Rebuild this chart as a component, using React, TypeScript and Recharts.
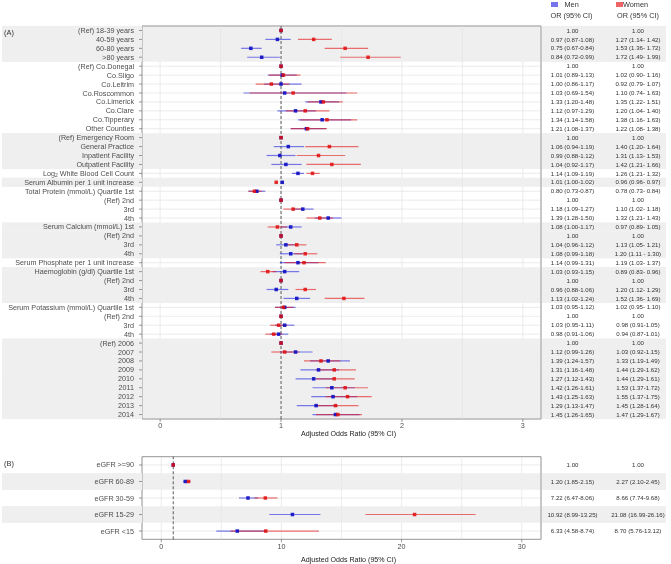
import React from "react";
import {
  ComposedChart, Line, ErrorBar, XAxis, YAxis, CartesianGrid,
  ReferenceArea, ReferenceLine, Legend
} from "recharts";

// Panel A rows
const labelsA = [
  "(Ref) 18-39 years", "40-59 years", "60-80 years", ">80 years",
  "(Ref) Co.Donegal", "Co.Sligo", "Co.Leitrim", "Co.Roscommon", "Co.Limerick", "Co.Clare", "Co.Tipperary", "Other Counties",
  "(Ref) Emergency Room", "General Practice", "Inpatient Facility", "Outpatient Facility",
  "Log2 White Blood Cell Count",
  "Serum Albumin per 1 unit increase",
  "Total Protein (mmol/L) Quartile 1st", "(Ref) 2nd", "3rd", "4th",
  "Serum Calcium (mmol/L) 1st", "(Ref) 2nd", "3rd", "4th",
  "Serum Phosphate per 1 unit increase",
  "Haemoglobin (g/dl) Quartile 1st", "(Ref) 2nd", "3rd", "4th",
  "Serum Potassium (mmol/L) Quartile 1st", "(Ref) 2nd", "3rd", "4th",
  "(Ref) 2006", "2007", "2008", "2009", "2010", "2011", "2012", "2013", "2014",
];
// group number per row, even groups are shaded
const groupsA = [
  0, 0, 0, 0,
  1, 1, 1, 1, 1, 1, 1, 1,
  2, 2, 2, 2,
  3,
  4,
  5, 5, 5, 5,
  6, 6, 6, 6,
  7,
  8, 8, 8, 8,
  9, 9, 9, 9,
  10, 10, 10, 10, 10, 10, 10, 10, 10,
];
// [OR, lower, upper]
const menA = [
  [1, 1, 1], [0.97, 0.87, 1.08], [0.75, 0.67, 0.84], [0.84, 0.72, 0.99],
  [1, 1, 1], [1.01, 0.89, 1.13], [1.0, 0.86, 1.17], [1.03, 0.69, 1.54], [1.33, 1.2, 1.48], [1.12, 0.97, 1.29], [1.34, 1.14, 1.58], [1.21, 1.08, 1.37],
  [1, 1, 1], [1.06, 0.94, 1.19], [0.99, 0.88, 1.12], [1.04, 0.92, 1.17],
  [1.14, 1.09, 1.19],
  [1.01, 1.0, 1.02],
  [0.8, 0.73, 0.87], [1, 1, 1], [1.18, 1.09, 1.27], [1.39, 1.28, 1.5],
  [1.08, 1.0, 1.17], [1, 1, 1], [1.04, 0.96, 1.12], [1.08, 0.99, 1.18],
  [1.14, 0.99, 1.31],
  [1.03, 0.93, 1.15], [1, 1, 1], [0.96, 0.88, 1.06], [1.13, 1.02, 1.24],
  [1.03, 0.95, 1.12], [1, 1, 1], [1.03, 0.95, 1.11], [0.98, 0.91, 1.06],
  [1, 1, 1], [1.12, 0.99, 1.26], [1.39, 1.24, 1.57], [1.31, 1.16, 1.48], [1.27, 1.12, 1.43], [1.42, 1.26, 1.61], [1.43, 1.25, 1.63], [1.29, 1.13, 1.47], [1.45, 1.26, 1.65],
];
const womenA = [
  [1, 1, 1], [1.27, 1.14, 1.42], [1.53, 1.36, 1.72], [1.72, 1.49, 1.99],
  [1, 1, 1], [1.02, 0.9, 1.16], [0.92, 0.79, 1.07], [1.1, 0.74, 1.63], [1.35, 1.22, 1.51], [1.2, 1.04, 1.4], [1.38, 1.16, 1.63], [1.22, 1.08, 1.38],
  [1, 1, 1], [1.4, 1.2, 1.64], [1.31, 1.13, 1.53], [1.42, 1.21, 1.66],
  [1.26, 1.21, 1.32],
  [0.96, 0.96, 0.97],
  [0.78, 0.73, 0.84], [1, 1, 1], [1.1, 1.02, 1.18], [1.32, 1.21, 1.43],
  [0.97, 0.89, 1.05], [1, 1, 1], [1.13, 1.05, 1.21], [1.2, 1.11, 1.3],
  [1.19, 1.03, 1.37],
  [0.89, 0.83, 0.96], [1, 1, 1], [1.2, 1.12, 1.29], [1.52, 1.36, 1.69],
  [1.02, 0.95, 1.1], [1, 1, 1], [0.98, 0.91, 1.05], [0.94, 0.87, 1.01],
  [1, 1, 1], [1.03, 0.92, 1.15], [1.33, 1.19, 1.49], [1.44, 1.29, 1.62], [1.44, 1.29, 1.61], [1.53, 1.37, 1.72], [1.55, 1.37, 1.75], [1.45, 1.28, 1.64], [1.47, 1.29, 1.67],
];
const menTextA = [
  "1.00", "0.97 (0.87-1.08)", "0.75 (0.67-0.84)", "0.84 (0.72-0.99)",
  "1.00", "1.01 (0.89-1.13)", "1.00 (0.86-1.17)", "1.03 (0.69-1.54)", "1.33 (1.20-1.48)", "1.12 (0.97-1.29)", "1.34 (1.14-1.58)", "1.21 (1.08-1.37)",
  "1.00", "1.06 (0.94-1.19)", "0.99 (0.88-1.12)", "1.04 (0.92-1.17)",
  "1.14 (1.09-1.19)",
  "1.01 (1.00-1.02)",
  "0.80 (0.73-0.87)", "1.00", "1.18 (1.09-1.27)", "1.39 (1.28-1.50)",
  "1.08 (1.00-1.17)", "1.00", "1.04 (0.96-1.12)", "1.08 (0.99-1.18)",
  "1.14 (0.99-1.31)",
  "1.03 (0.93-1.15)", "1.00", "0.96 (0.88-1.06)", "1.13 (1.02-1.24)",
  "1.03 (0.95-1.12)", "1.00", "1.03 (0.95-1.11)", "0.98 (0.91-1.06)",
  "1.00", "1.12 (0.99-1.26)", "1.39 (1.24-1.57)", "1.31 (1.16-1.48)", "1.27 (1.12-1.43)", "1.42 (1.26-1.61)", "1.43 (1.25-1.63)", "1.29 (1.13-1.47)", "1.45 (1.26-1.65)",
];
const womenTextA = [
  "1.00", "1.27 (1.14- 1.42)", "1.53 (1.36- 1.72)", "1.72 (1.49- 1.99)",
  "1.00", "1.02 (0.90- 1.16)", "0.92 (0.79- 1.07)", "1.10 (0.74- 1.63)", "1.35 (1.22- 1.51)", "1.20 (1.04- 1.40)", "1.38 (1.16- 1.63)", "1.22 (1.08- 1.38)",
  "1.00", "1.40 (1.20- 1.64)", "1.31 (1.13- 1.53)", "1.42 (1.21- 1.66)",
  "1.26 (1.21- 1.32)",
  "0.96 (0.96- 0.97)",
  "0.78 (0.73- 0.84)", "1.00", "1.10 (1.02- 1.18)", "1.32 (1.21- 1.43)",
  "0.97 (0.89- 1.05)", "1.00", "1.13 (1.05- 1.21)", "1.20 (1.11 - 1.30)",
  "1.19 (1.03- 1.37)",
  "0.89 (0.83- 0.96)", "1.00", "1.20 (1.12- 1.29)", "1.52 (1.36- 1.69)",
  "1.02 (0.95- 1.10)", "1.00", "0.98 (0.91-1.05)", "0.94 (0.87-1.01)",
  "1.00", "1.03 (0.92-1.15)", "1.33 (1.19-1.49)", "1.44 (1.29-1.62)", "1.44 (1.29-1.61)", "1.53 (1.37-1.72)", "1.55 (1.37-1.75)", "1.45 (1.28-1.64)", "1.47 (1.29-1.67)",
];
const ticksA = [0, 1, 2, 3];
const minorA = [0.5, 1.5, 2.5];

// Panel B rows
const labelsB = ["eGFR >=90", "eGFR 60-89", "eGFR 30-59", "eGFR 15-29", "eGFR <15"];
const groupsB = [1, 2, 3, 4, 5];
const menB = [[1, 1, 1], [2.0, 1.85, 2.15], [7.22, 6.47, 8.06], [10.92, 8.99, 13.25], [6.33, 4.58, 8.74]];
const womenB = [[1, 1, 1], [2.27, 2.1, 2.45], [8.66, 7.74, 9.68], [21.08, 16.99, 26.16], [8.7, 5.76, 13.12]];
const menTextB = ["1.00", "1.20 (1.85-2.15)", "7.22 (6.47-8.06)", "10.92 (8.99-13.25)", "6.33 (4.58-8.74)"];
const womenTextB = ["1.00", "2.27 (2.10-2.45)", "8.66 (7.74-9.68)", "21.08 (16.99-26.16)", "8.70 (5.76-13.12)"];
const ticksB = [0, 10, 20, 30];
const minorB = [5, 15, 25];

const W = 671;
const LEFT_W = 142;
const RIGHT_W = 130;
const BAND = "#efefef";
const GRID = "#e2e2e2";
const SQ = 3.5;
const KEY: Record<string, string> = { Men: "#7474ec", Women: "#ef6464" };

const renderLabel = (label: string) => {
  if (label.startsWith("Log2")) {
    return (
      <>
        <tspan>Log</tspan>
        <tspan dy={1.6} fontSize={5}>2</tspan>
        <tspan dy={-1.6}>{label.slice(4)}</tspan>
      </>
    );
  }
  return label;
};

const square = (fill: string, op: number) => (p: any) => (
  <rect key={`sq-${p.index}`} x={p.cx - SQ / 2} y={p.cy - SQ / 2} width={SQ} height={SQ} fill={fill} fillOpacity={op} />
);

const Header = ({ payload }: any) => (
  <div style={{ position: "relative", width: 131, height: 22, fontSize: 7.3, color: "#333", lineHeight: "9px" }}>
    {(payload || []).map((p: any, i: number) => (
      <div key={p.value} style={{ position: "absolute", left: i === 0 ? 10.5 : 76, top: 0, display: "flex", alignItems: "center" }}>
        <span style={{ display: "inline-block", width: 7, height: 5.5, background: KEY[p.value], marginRight: i === 0 ? 7 : 0 }} />
        <span>{p.value}</span>
      </div>
    ))}
    <div style={{ position: "absolute", left: 31.5, top: 10.5, transform: "translateX(-50%)", whiteSpace: "nowrap" }}>OR (95% CI)</div>
    <div style={{ position: "absolute", left: 98, top: 10.5, transform: "translateX(-50%)", whiteSpace: "nowrap" }}>OR (95% CI)</div>
  </div>
);

function ForestPanel(props: any) {
  const { tag, labels, groups, men, women, menText, womenText, domain, ticks, minor, height, top, axisH, titleOffset, tickGap, header } = props;
  const plotH = height - top - axisH;
  const bandH = plotH / labels.length;

  const rows = labels.map((label: string, i: number) => ({
    id: `r${i}`,
    label,
    men: men[i][0],
    menErr: [men[i][0] - men[i][1], men[i][2] - men[i][0]],
    women: women[i][0],
    womenErr: [women[i][0] - women[i][1], women[i][2] - women[i][0]],
    menText: menText[i],
    womenText: womenText[i],
    shaded: groups[i] % 2 === 0,
  }));

  // contiguous shaded groups
  const spans: { from: string; to: string }[] = [];
  rows.forEach((r: any, i: number) => {
    if (!r.shaded) return;
    if (i > 0 && groups[i - 1] === groups[i]) spans[spans.length - 1].to = r.id;
    else spans.push({ from: r.id, to: r.id });
  });

  const LeftTick = (p: any) => {
    const row = rows[p.index];
    return (
      <g>
        {row.shaded && <rect x={2} y={p.y - bandH / 2 - 0.15} width={LEFT_W - 2} height={bandH + 0.3} fill={BAND} />}
        <line x1={LEFT_W - 3} x2={LEFT_W} y1={p.y} y2={p.y} stroke="#555" strokeWidth={0.6} />
        <text x={p.x} y={p.y} dy="0.35em" textAnchor="end" fontSize={7.2} fill="#4d4d4d">
          {renderLabel(row.label)}
        </text>
      </g>
    );
  };

  const RightTick = (p: any) => {
    const row = rows[p.index];
    return (
      <g>
        {row.shaded && <rect x={p.x + 1} y={p.y - bandH / 2 - 0.15} width={RIGHT_W - 6} height={bandH + 0.3} fill={BAND} />}
        <text x={p.x + 31.5} y={p.y} dy="0.35em" textAnchor="middle" fontSize={6.1} fill="#333">{row.menText}</text>
        <text x={p.x + 97} y={p.y} dy="0.35em" textAnchor="middle" fontSize={6.1} fill="#333">{row.womenText}</text>
      </g>
    );
  };

  return (
    <ComposedChart
      width={W}
      height={height}
      data={rows}
      layout="vertical"
      margin={{ top, right: 0, bottom: 0, left: 0 }}
    >
      {spans.map((s) => (
        <ReferenceArea key={s.from} y1={s.from} y2={s.to} fill={BAND} fillOpacity={1} stroke="none" ifOverflow="visible" />
      ))}
      <CartesianGrid stroke={GRID} strokeWidth={0.7} />
      {minor.map((m: number) => (
        <ReferenceLine key={m} x={m} stroke={GRID} strokeWidth={0.6} />
      ))}
      <XAxis
        type="number"
        domain={domain}
        ticks={ticks}
        allowDataOverflow
        height={axisH}
        axisLine={false}
        tickSize={3}
        tickMargin={tickGap}
        tickLine={{ stroke: "#555", strokeWidth: 0.6 }}
        tick={{ fontSize: 7.2, fill: "#4d4d4d" }}
        label={{ value: "Adjusted Odds Ratio (95% CI)", position: "insideBottom", offset: titleOffset, dx: 7, fontSize: 7.1, fill: "#222" }}
      />
      <YAxis
        type="category"
        dataKey="id"
        scale="band"
        width={LEFT_W}
        interval={0}
        axisLine={false}
        tickLine={false}
        tickSize={3}
        tickMargin={5}
        tick={<LeftTick />}
        label={{ value: tag, position: "insideTopLeft", offset: 4, fontSize: 7.4, fill: "#333" }}
      />
      <YAxis
        yAxisId="right"
        orientation="right"
        type="category"
        dataKey="id"
        scale="band"
        width={RIGHT_W}
        interval={0}
        axisLine={false}
        tickLine={false}
        tickSize={0}
        tickMargin={0}
        tick={<RightTick />}
      />
      <ReferenceLine x={1} stroke="#333" strokeWidth={0.8} strokeDasharray="3 2" />
      <Line dataKey="men" name="Men" stroke="none" isAnimationActive={false} activeDot={false} dot={square("#1010c4", 0.92)}>
        <ErrorBar dataKey="menErr" direction="x" width={0} stroke="#2424e0" strokeOpacity={0.6} strokeWidth={1.2} isAnimationActive={false} />
      </Line>
      <Line dataKey="women" name="Women" stroke="none" isAnimationActive={false} activeDot={false} dot={square("#e00c0c", 0.85)}>
        <ErrorBar dataKey="womenErr" direction="x" width={0} stroke="#e41414" strokeOpacity={0.6} strokeWidth={1.2} isAnimationActive={false} />
      </Line>
      <ReferenceArea x1={domain[0]} x2={domain[1]} fill="none" stroke="#9a9a9a" strokeWidth={1} ifOverflow="visible" />
      {header && (
        <Legend
          layout="horizontal"
          verticalAlign="middle"
          align="center"
          content={<Header />}
          wrapperStyle={{ left: 540, top: 0, width: 131, height: 22 }}
        />
      )}
    </ComposedChart>
  );
}

export default function App() {
  return (
    <div style={{ position: "absolute", left: 0, top: 0, width: W, height: 564, fontFamily: "'Liberation Sans', Arial, sans-serif", willChange: "transform" }}>
      <ForestPanel
        tag="(A)"
        labels={labelsA}
        groups={groupsA}
        men={menA}
        women={womenA}
        menText={menTextA}
        womenText={womenTextA}
        domain={[-0.15, 3.15]}
        ticks={ticksA}
        minor={minorA}
        height={440}
        top={26}
        axisH={21}
        titleOffset={4.5}
        tickGap={1}
        header
      />
      <ForestPanel
        tag="(B)"
        labels={labelsB}
        groups={groupsB}
        men={menB}
        women={womenB}
        menText={menTextB}
        womenText={womenTextB}
        domain={[-1.6, 31.6]}
        ticks={ticksB}
        minor={minorB}
        height={124}
        top={16.7}
        axisH={24.7}
        titleOffset={2.5}
        tickGap={2}
      />
    </div>
  );
}
